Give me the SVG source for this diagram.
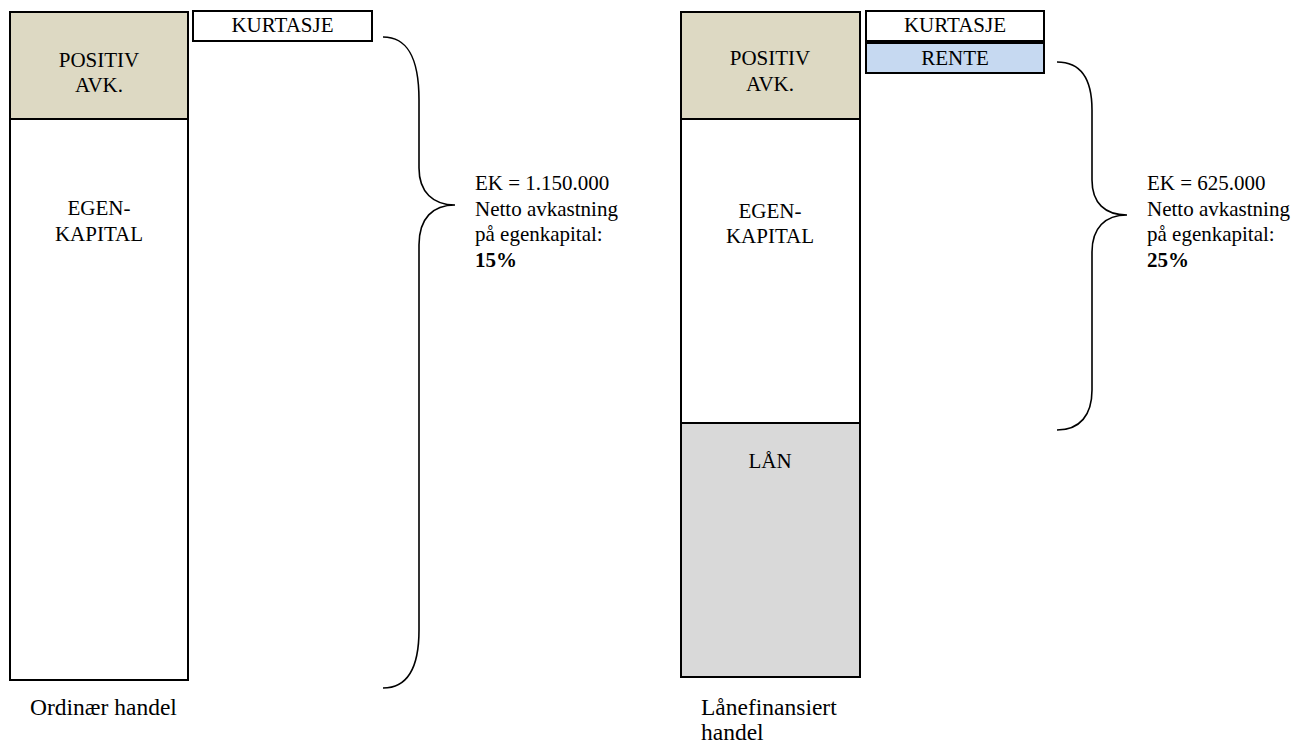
<svg xmlns="http://www.w3.org/2000/svg" width="1309" height="747" viewBox="0 0 1309 747" font-family="'Liberation Serif', Tinos, 'Times New Roman', 'DejaVu Serif', serif">
<style>
text{font-family:'Liberation Serif',Tinos,'Times New Roman','DejaVu Serif',serif;font-size:21px;fill:#000}
.c{text-anchor:middle}
.b{font-weight:bold}
.big{font-size:23.5px}
.box{stroke:#000;stroke-width:2}
.brace{fill:none;stroke:#000;stroke-width:1.6}
</style>
<rect width="1309" height="747" fill="#fff"/>
<g id="left-positiv"><rect class="box" x="10" y="12" width="178" height="107" fill="#ddd9c3"/><text class="c" x="99" y="67">POSITIV</text><text class="c" x="99" y="92">AVK.</text></g>
<g id="left-egenkapital"><rect class="box" x="10" y="119" width="178" height="561" fill="#fff"/><text class="c" x="99" y="215">EGEN-</text><text class="c" x="99" y="241">KAPITAL</text></g>
<g id="left-kurtasje"><rect class="box" x="193" y="11" width="179" height="30" fill="#fff"/><text class="c" x="282.5" y="32">KURTASJE</text></g>
<g id="left-label"><text x="475" y="190">EK = 1.150.000</text><text x="475" y="215.5">Netto avkastning</text><text x="475" y="241">på egenkapital:</text><text class="b" x="475" y="267">15%</text></g>
<g id="left-caption"><text class="big" x="30" y="715">Ordinær handel</text></g>
<g id="right-positiv"><rect class="box" x="681" y="12" width="179" height="107" fill="#ddd9c3"/><text class="c" x="770" y="65">POSITIV</text><text class="c" x="770" y="91">AVK.</text></g>
<g id="right-egenkapital"><rect class="box" x="681" y="119" width="179" height="304" fill="#fff"/><text class="c" x="770" y="218">EGEN-</text><text class="c" x="770" y="243">KAPITAL</text></g>
<g id="right-lan"><rect class="box" x="681" y="423" width="179" height="254" fill="#d9d9d9"/><text class="c" x="770" y="468">LÅN</text></g>
<g id="right-kurtasje"><rect class="box" x="866" y="11" width="178" height="30" fill="#fff"/><text class="c" x="955" y="32">KURTASJE</text></g>
<g id="right-rente"><rect class="box" x="866" y="43" width="178" height="30" fill="#c6d9f1"/><text class="c" x="955" y="65">RENTE</text></g>
<g id="right-label"><text x="1147" y="190">EK = 625.000</text><text x="1147" y="215.5">Netto avkastning</text><text x="1147" y="241">på egenkapital:</text><text class="b" x="1147" y="267">25%</text></g>
<g id="right-caption"><text class="big" x="701" y="715">Lånefinansiert</text><text class="big" x="701" y="740">handel</text></g>
<g id="connectors">
<path class="brace" d="M383,37 C406,37 419,55 419,100 L419,168 C419,192 433,205 455,205 C433,205 419,218 419,245 L419,630 C419,670 406,688 383,688"/>
<path class="brace" d="M1057,62 C1080,62 1092,78 1092,110 L1092,180 C1092,203 1105,215 1127,215 C1105,215 1092,228 1092,252 L1092,390 C1092,415 1080,430 1057,430"/>
</g>
</svg>
